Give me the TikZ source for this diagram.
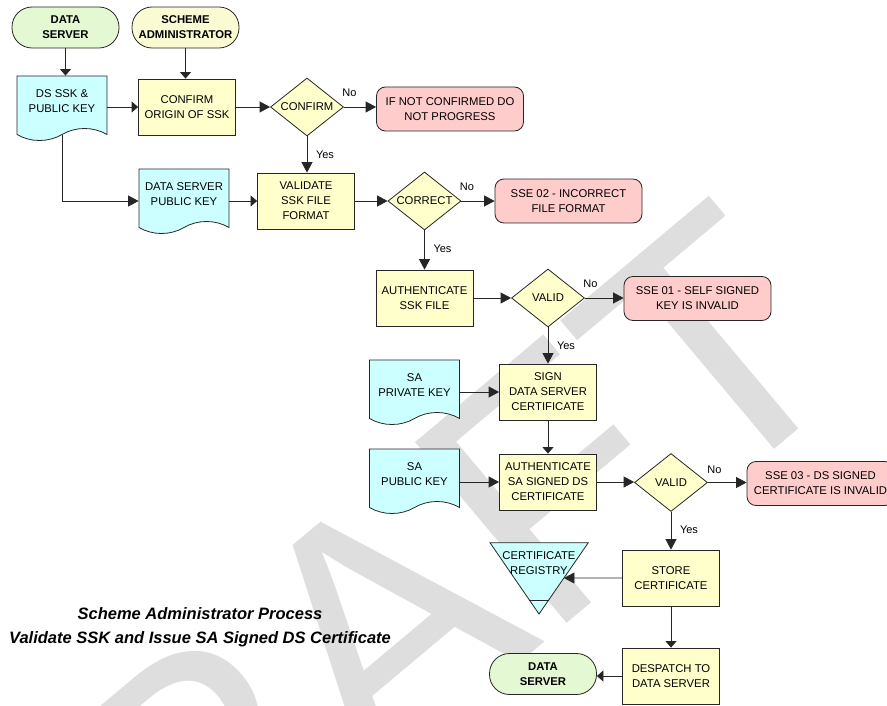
\documentclass[tikz,border=0pt]{standalone}
\usepackage{fontspec}
\setmainfont{Liberation Sans}
\usetikzlibrary{shapes.geometric, arrows.meta, calc}

\pgfdeclarelayer{wmark}
\pgfdeclarelayer{shapes}
\pgfsetlayers{wmark,shapes,main}

\definecolor{procfill}{HTML}{FFFFCC}
\definecolor{docfill}{HTML}{CCFFFF}
\definecolor{errfill}{HTML}{FFCCCC}
\definecolor{termfill}{HTML}{E3F8D3}
\definecolor{adminfill}{HTML}{FAFBD2}
\definecolor{edge}{HTML}{262626}
\definecolor{wmgray}{HTML}{DEDEDE}

\tikzset{
  base/.style={font=\fontsize{11.3}{15}\selectfont, align=center, inner sep=0pt,
    draw=edge, line width=0.8pt},
  proc/.style={base, rectangle, fill=procfill, minimum width=97pt, minimum height=56pt},
  decision/.style={base, diamond, aspect=1.26, fill=procfill,
    minimum width=73pt, minimum height=58pt},
  errbox/.style={base, rectangle, rounded corners=9pt, fill=errfill,
    minimum width=147pt, minimum height=44pt},
  term/.style={base, rectangle, rounded corners=20pt, fill=termfill,
    minimum width=107pt, minimum height=41pt,
    font=\bfseries\fontsize{11.3}{15}\selectfont},
  docnode/.style={base, draw=none, rectangle, minimum width=90pt, minimum height=50pt},
  outline/.style={draw=edge, line width=0.8pt, fill=docfill},
  flow/.style={draw=edge, line width=0.8pt, -{Triangle[length=10.5pt,width=11pt]}},
  flowshort/.style={draw=edge, line width=0.8pt, -{Triangle[length=6.5pt,width=11pt]}},
  yes/.style={font=\fontsize{11}{13}\selectfont, fill=white, inner sep=1pt},
  no/.style={font=\fontsize{11}{13}\selectfont, inner sep=1pt},
}

% document symbol: name, centre x, top y, text
\newcommand\docshape[4]{%
  \node[docnode] (#1) at (#2,#3+25) {#4};
  \begin{pgfonlayer}{shapes}
    \draw[outline] (#2-45,#3) -- (#2+45,#3) -- (#2+45,#3+58.5)
      .. controls (#2+31.5,#3+50.5) and (#2+13.5,#3+50.5) .. (#2,#3+58.5)
      .. controls (#2-13.5,#3+66.5) and (#2-31.5,#3+66.5) .. (#2-45,#3+58.5) -- cycle;
  \end{pgfonlayer}}

\begin{document}
\begin{tikzpicture}[x=1pt, y=-1pt]
\useasboundingbox (0,0) rectangle (887,706);

% watermark
\begin{pgfonlayer}{wmark}
  \node[rotate=40, anchor=base west, inner sep=0pt, text=wmgray,
        font=\fontsize{343}{343}\selectfont] (wmark) at (-9,1107) {DRAFT};
\end{pgfonlayer}

% terminals and inputs
\node[term] (srcds) at (65.5,27.5) {DATA\\SERVER};
\node[term, fill=adminfill] (admin) at (185.5,27.5) {SCHEME\\ADMINISTRATOR};
\docshape{dssk}{62}{76}{DS SSK \&\\PUBLIC KEY}
\docshape{dspub}{184}{169}{DATA SERVER\\PUBLIC KEY}
\docshape{saprv}{414.5}{360}{SA\\PRIVATE KEY}
\docshape{sapub}{414.5}{449}{SA\\PUBLIC KEY}

% process steps
\node[proc] (origin) at (187,107) {CONFIRM\\ORIGIN OF SSK};
\node[decision] (confirm) at (307,107) {CONFIRM};
\node[errbox] (noconf) at (450,109) {IF NOT CONFIRMED DO\\NOT PROGRESS};
\node[proc] (validate) at (306,201) {VALIDATE\\SSK FILE\\FORMAT};
\node[decision] (correct) at (424.5,201) {CORRECT};
\node[errbox] (sse02) at (568.5,201) {SSE 02 - INCORRECT\\FILE FORMAT};
\node[proc] (authssk) at (424.5,298) {AUTHENTICATE\\SSK FILE};
\node[decision] (valid1) at (548,298) {VALID};
\node[errbox] (sse01) at (697.5,298.5) {SSE 01 - SELF SIGNED\\KEY IS INVALID};
\node[proc] (sign) at (548,392) {SIGN\\DATA SERVER\\CERTIFICATE};
\node[proc] (authsa) at (548,482) {AUTHENTICATE\\SA SIGNED DS\\CERTIFICATE};
\node[decision] (valid2) at (671,482.5) {VALID};
\node[errbox] (sse03) at (820.5,483.5) {SSE 03 - DS SIGNED\\CERTIFICATE IS INVALID};
\node[proc] (store) at (671,578) {STORE\\CERTIFICATE};
\node[proc] (despatch) at (671,676) {DESPATCH TO\\DATA SERVER};
\node[term] (dstarget) at (543,674) {DATA\\SERVER};

% certificate registry (inverted triangle store)
\coordinate (regtl) at (490,542.7);
\coordinate (regtr) at (588.3,542.7);
\coordinate (regbot) at (539,614);
\begin{pgfonlayer}{shapes}
  \draw[outline] (regtl) -- (regtr) -- (regbot) -- cycle;
  \draw[draw=edge, line width=0.8pt] ($(regbot)!0.196!(regtl)$) -- ($(regbot)!0.196!(regtr)$);
\end{pgfonlayer}
\node[base, draw=none] (registry) at (539,563) {CERTIFICATE\\REGISTRY};

% title
\node[font=\bfseries\itshape\fontsize{16.5}{24}\selectfont, align=center] (title)
  at (200,627) {Scheme Administrator Process\\Validate SSK and Issue SA Signed DS Certificate};

% connectors
\draw[flowshort] (srcds.south) -- (srcds.south |- dssk.north);
\draw[flowshort] (admin.south) -- (admin.south |- origin.north);
\draw[flowshort] (dssk.east |- origin.west) -- (origin.west);
\draw[flow] (origin.east) -- (confirm.west);
\draw[flow] (confirm.east) -- (confirm.east -| noconf.west);
\draw[flow] (confirm.south) -- (confirm.south |- validate.north);
\coordinate (dsskfoot) at ($(dssk.south)+(0,8.5)$);
\draw[flow] (dsskfoot) |- (dspub.west |- validate.west);
\draw[flowshort] (dspub.east |- validate.west) -- (validate.west);
\draw[flow] (validate.east) -- (validate.east -| correct.west);
\draw[flow] (correct.east) -- (correct.east -| sse02.west);
\draw[flow] (correct.south) -- (correct.south |- authssk.north);
\draw[flow] (authssk.east) -- (authssk.east -| valid1.west);
\draw[flow] (valid1.east) -- (valid1.east -| sse01.west);
\draw[flow] (valid1.south) -- (valid1.south |- sign.north);
\draw[flow] (saprv.east |- sign.west) -- (sign.west);
\draw[flowshort] (sign.south) -- (authsa.north);
\draw[flow] (sapub.east |- authsa.west) -- (authsa.west);
\draw[flow] (authsa.east) -- (authsa.east -| valid2.west);
\draw[flow] (valid2.east) -- (valid2.east -| sse03.west);
\draw[flow] (valid2.south) -- (valid2.south |- store.north);
\coordinate (storeaux) at (store.west -| regbot);
\draw[flow] (store.west) -- (intersection of store.west--storeaux and regtr--regbot);
\draw[flowshort] (store.south) -- (despatch.north);
\draw[flowshort] (despatch.west) -- (despatch.west -| dstarget.east);

% branch labels
\node[no] (no1) at ($(confirm.east)+(5.5,-14)$) {No};
\node[no] (no2) at ($(correct.east)+(5.5,-14)$) {No};
\node[no] (no3) at ($(valid1.east)+(5.5,-14)$) {No};
\node[no] (no4) at ($(valid2.east)+(6.5,-13)$) {No};
\node[yes] (yes1) at ($(confirm.south)+(18,18)$) {Yes};
\node[yes] (yes2) at ($(correct.south)+(18,18)$) {Yes};
\node[yes] (yes3) at ($(valid1.south)+(18,18)$) {Yes};
\node[yes] (yes4) at ($(valid2.south)+(18,18)$) {Yes};
\end{tikzpicture}
\end{document}
